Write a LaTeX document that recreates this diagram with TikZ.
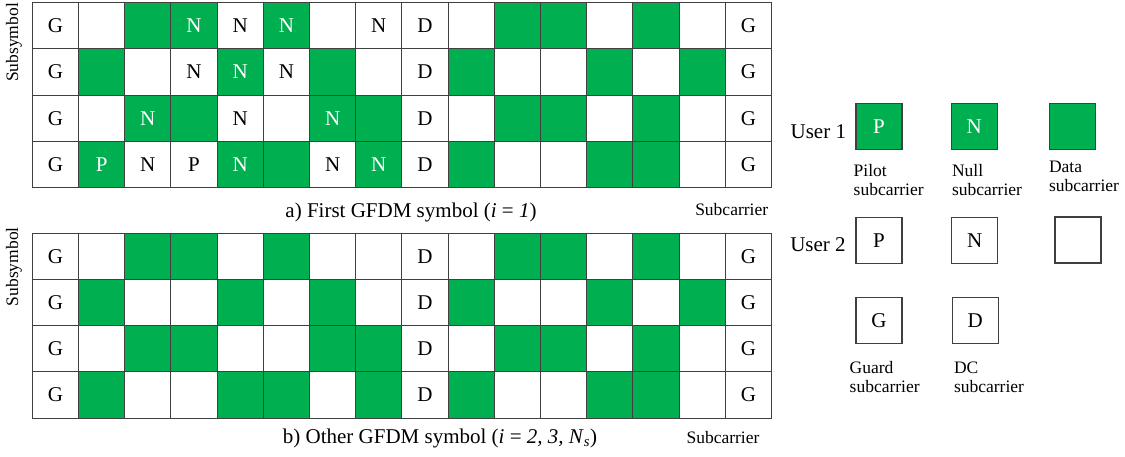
\documentclass[tikz,border=0pt]{standalone}
\usepackage{fontspec}
\setmainfont{Liberation Serif}
\usetikzlibrary{positioning}
\definecolor{usergreen}{HTML}{00B050}
\tikzset{
  cell/.style={rectangle, draw=black!75, line width=1.1pt, minimum size=46.2pt,
    inner sep=0pt, font=\fontsize{21}{25}\selectfont},
  cellw/.style={cell, fill=white, text=black},
  cellg/.style={cell, fill=usergreen, text=white},
  key/.style={minimum size=46pt},
  captxt/.style={inner sep=0pt, font=\fontsize{21}{25}\selectfont},
  lbl/.style={inner sep=0pt, font=\fontsize{17.5}{18.7}\selectfont},
  keylbl/.style={lbl, align=left, anchor=north west},
}

\begin{document}
\begin{tikzpicture}[x=1pt, y=-1pt]
\useasboundingbox (0,0) rectangle (1125,456);
% Subcarrier grids: fill / guard-DC label / user-1 label, one list per subsymbol
\foreach \r/\rowlist in {
  1/{w/G/,w//,g//,g//N,w//N,g//N,w//,w//N,w/D/,w//,g//,g//,w//,g//,w//,w/G/},
  2/{w/G/,g//,w//,w//N,g//N,w//N,g//,w//,w/D/,g//,w//,w//,g//,w//,g//,w/G/},
  3/{w/G/,w//,g//N,g//,w//N,w//,g//N,g//,w/D/,w//,g//,g//,w//,g//,w//,w/G/},
  4/{w/G/,g//P,w//N,w//P,g//N,g//,w//N,g//N,w/D/,g//,w//,w//,g//,g//,w//,w/G/}} {
  \foreach \f/\gd/\u [count=\c] in \rowlist {
    \node[cell\f] (a-\r-\c) at ({32.3+46.2*(\c-0.5)}, {2.7+46.2*(\r-0.5)}) {\gd\u};
    \node[cell\f] (b-\r-\c) at ({32.3+46.2*(\c-0.5)}, {233.3+46.2*(\r-0.5)}) {\gd};
  }
}
% Axis labels and captions
\node[lbl, rotate=90] (syma) at (14,42.5)  {Subsymbol};
\node[lbl, rotate=90] (symb) at (14,266.7) {Subsymbol};
\node[captxt] (capa) at (411,212) {a) First GFDM symbol (\textit{i} = \textit{1})};
\node[captxt] (capb) at (440,438) {b) Other GFDM symbol (\textit{i} = \textit{2, 3, N}\textsubscript{\textit{s}})};
\node[lbl] (suba) at (731.7,210) {Subcarrier};
\node[lbl] (subb) at (723,438)   {Subcarrier};
% Legend, user 1
\node[captxt] (user1) at (818.3,131.7) {User 1};
\node[cellg, key] (pil1) at (879,126.7)    {P};
\node[cellg, key] (nul1) at (974.3,126.7)  {N};
\node[cellg, key] (dat1) at (1072.3,126.3) {};
\node[keylbl] (pillbl) at (853.5,164)  {Pilot\\subcarrier};
\node[keylbl] (nullbl) at (951.8,164)  {Null\\subcarrier};
\node[keylbl] (datlbl) at (1048.8,160.7) {Data\\subcarrier};
% Legend, user 2
\node[captxt] (user2) at (818,245) {User 2};
\node[cellw, key] (pil2) at (879,240.8)   {P};
\node[cellw, key] (nul2) at (974.7,240.8) {N};
\node[cellw, key] (dat2) at (1078,240)    {};
% Legend, guard and DC
\node[cellw, key] (grd) at (879,320.7)   {G};
\node[cellw, key] (dcc) at (975.3,320.7) {D};
\node[keylbl] (grdlbl) at (849.5,361) {Guard\\subcarrier};
\node[keylbl] (dclbl)  at (953.8,361.7) {DC\\subcarrier};
\end{tikzpicture}
\end{document}
